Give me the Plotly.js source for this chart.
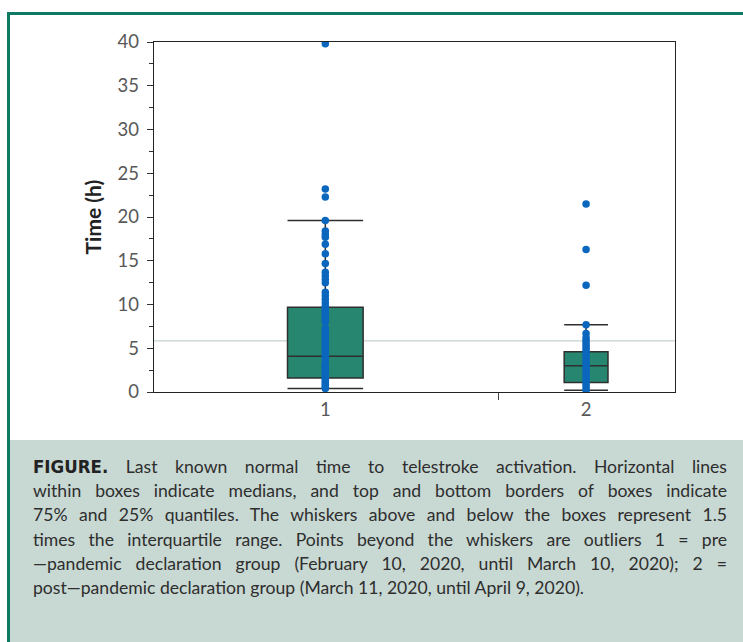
<!DOCTYPE html>
<html>
<head>
<meta charset="utf-8">
<script src="https://cdn.plot.ly/plotly-3.0.1.min.js"></script>
<style>
  html, body { margin: 0; padding: 0; background: #fff; }
  #wrap { position: relative; width: 743px; height: 642px; overflow: hidden; background: #fff; }
  #frame { position: absolute; left: 7px; top: 12px; width: 760px; height: 660px;
           border-top: 3px solid #0e7a64; border-left: 3px solid #0e7a64; pointer-events: none; z-index: 3; }
  #plot { position: absolute; left: 0; top: 0; width: 743px; height: 440px; z-index: 1; }
  #caption { position: absolute; left: 10px; top: 440px; width: 733px; height: 202px;
             background: #c8d8d3; z-index: 2; }
  #captext { position: absolute; left: 23px; top: 15px; width: 694px;
             font-family: Lato, "Open Sans", sans-serif; font-size: 17.6px; line-height: 24.2px;
             color: #2e2e2e; }
  #captext .ln { text-align: justify; text-align-last: justify; white-space: nowrap; }
  #captext .last { text-align: left; text-align-last: left; }
  #captext b { font-family: "Liberation Sans Narrow", "DejaVu Sans Condensed", sans-serif; font-weight: bold; color: #222; font-size: 18.5px; }
</style>
</head>
<body>
<div id="wrap">
  <div id="plot"></div>
  <div id="caption">
    <div id="captext"></div>
  </div>
  <div id="frame"></div>
</div>
<script>
// ---- data ----
var groups = [1, 2];
var groupLabels = ["1", "2"];
var q1 = [1.6, 1.1];
var median = [4.1, 3.0];
var q3 = [9.7, 4.6];
var lowerFence = [0.4, 0.2];
var upperFence = [19.6, 7.7];
var boxWidths = [0.29, 0.168];
var pre = [39.8, 23.2, 22.3, 19.6, 18.4, 18.0, 17.7, 16.9, 15.8, 14.7, 13.7, 13.3, 12.9, 12.5,
           11.4, 11.0, 10.6, 10.2, 9.8, 9.6, 9.3, 9.1, 8.8, 8.6, 8.4, 8.2, 8.0,
           7.3, 7.0, 6.8, 6.5, 6.2, 6.0, 5.8, 5.5, 5.3, 5.0, 4.8, 4.5, 4.2, 4.0, 3.8,
           3.3, 3.1, 2.9, 2.7, 2.5, 2.3, 2.1, 1.9, 1.7, 1.5, 1.3, 1.1, 0.9, 0.7, 0.5, 0.4];
var post = [21.5, 16.3, 12.2, 7.7, 6.7, 6.2, 5.9, 5.6, 5.3, 5.0, 4.7, 4.4, 4.1, 3.8, 3.5,
            3.2, 2.9, 2.6, 2.3, 2.0, 1.7, 1.4, 1.1, 0.8, 0.5, 0.2];
var refLineValue = [5.85];
var yTickVals = [0, 5, 10, 15, 20, 25, 30, 35, 40];
var captionLines = [
  "<b>FIGURE.</b> Last known normal time to telestroke activation. Horizontal lines",
  "within boxes indicate medians, and top and bottom borders of boxes indicate",
  "75% and 25% quantiles. The whiskers above and below the boxes represent 1.5",
  "times the interquartile range. Points beyond the whiskers are outliers 1 = pre",
  "\u2014pandemic declaration group (February 10, 2020, until March 10, 2020); 2 =",
  "post\u2014pandemic declaration group (March 11, 2020, until April 9, 2020)."
];

// ---- caption ----
var ct = document.getElementById('captext');
captionLines.forEach(function (l, i) {
  var d = document.createElement('div');
  d.className = 'ln' + (i === captionLines.length - 1 ? ' last' : '');
  d.innerHTML = l;
  ct.appendChild(d);
});

// ---- traces ----
var traces = [];
groups.forEach(function (g, i) {
  traces.push({
    type: 'box', x: [g], q1: [q1[i]], median: [median[i]], q3: [q3[i]],
    lowerfence: [lowerFence[i]], upperfence: [upperFence[i]],
    width: boxWidths[i], whiskerwidth: 1, boxpoints: false,
    fillcolor: '#26866f', line: { color: '#2f2f2f', width: 1.5 },
    showlegend: false, hoverinfo: 'skip'
  });
});
[pre, post].forEach(function (arr, i) {
  traces.push({
    type: 'scatter', mode: 'markers',
    x: arr.map(function () { return groups[i]; }), y: arr,
    marker: { color: '#0b67bd', size: 7.5 },
    showlegend: false, hoverinfo: 'y'
  });
});

var tickFont = { family: 'Lato, "Open Sans", sans-serif', size: 18.5, color: '#585858' };
var layout = {
  width: 743, height: 440,
  margin: { l: 154, r: 68, t: 42, b: 48 },
  paper_bgcolor: 'rgba(0,0,0,0)', plot_bgcolor: '#fff',
  xaxis: {
    range: [0.343, 2.341], showgrid: false, zeroline: false,
    showline: true, linecolor: '#222', linewidth: 1.3, mirror: true,
    tickmode: 'array', tickvals: groups, ticktext: groupLabels,
    ticks: '', tickfont: tickFont,
    minor: { tickmode: 'array', tickvals: [1.663], ticks: 'outside', ticklen: 7, tickcolor: '#444', tickwidth: 1.3 }
  },
  yaxis: {
    range: [0, 40], showgrid: false, zeroline: false,
    showline: true, linecolor: '#222', linewidth: 1.3, mirror: true,
    tickmode: 'array', tickvals: yTickVals,
    ticks: 'outside', ticklen: 6, tickcolor: '#333', tickwidth: 1,
    ticklabelstandoff: 4,
    minor: { dtick: 2.5, ticks: 'outside', ticklen: 4, tickcolor: '#333', tickwidth: 1 },
    tickfont: tickFont,
    title: { text: '<b>Time (h)</b>', font: { family: 'Lato, "Open Sans", sans-serif', size: 21, color: '#222' }, standoff: 10 }
  },
  shapes: [{
    type: 'line', xref: 'paper', x0: 0, x1: 1, yref: 'y', y0: refLineValue[0], y1: refLineValue[0],
    line: { color: '#c4d2cd', width: 1.2 }, layer: 'below'
  }]
};

Plotly.newPlot('plot', traces, layout, { displayModeBar: false, staticPlot: true });
</script>
</body>
</html>
